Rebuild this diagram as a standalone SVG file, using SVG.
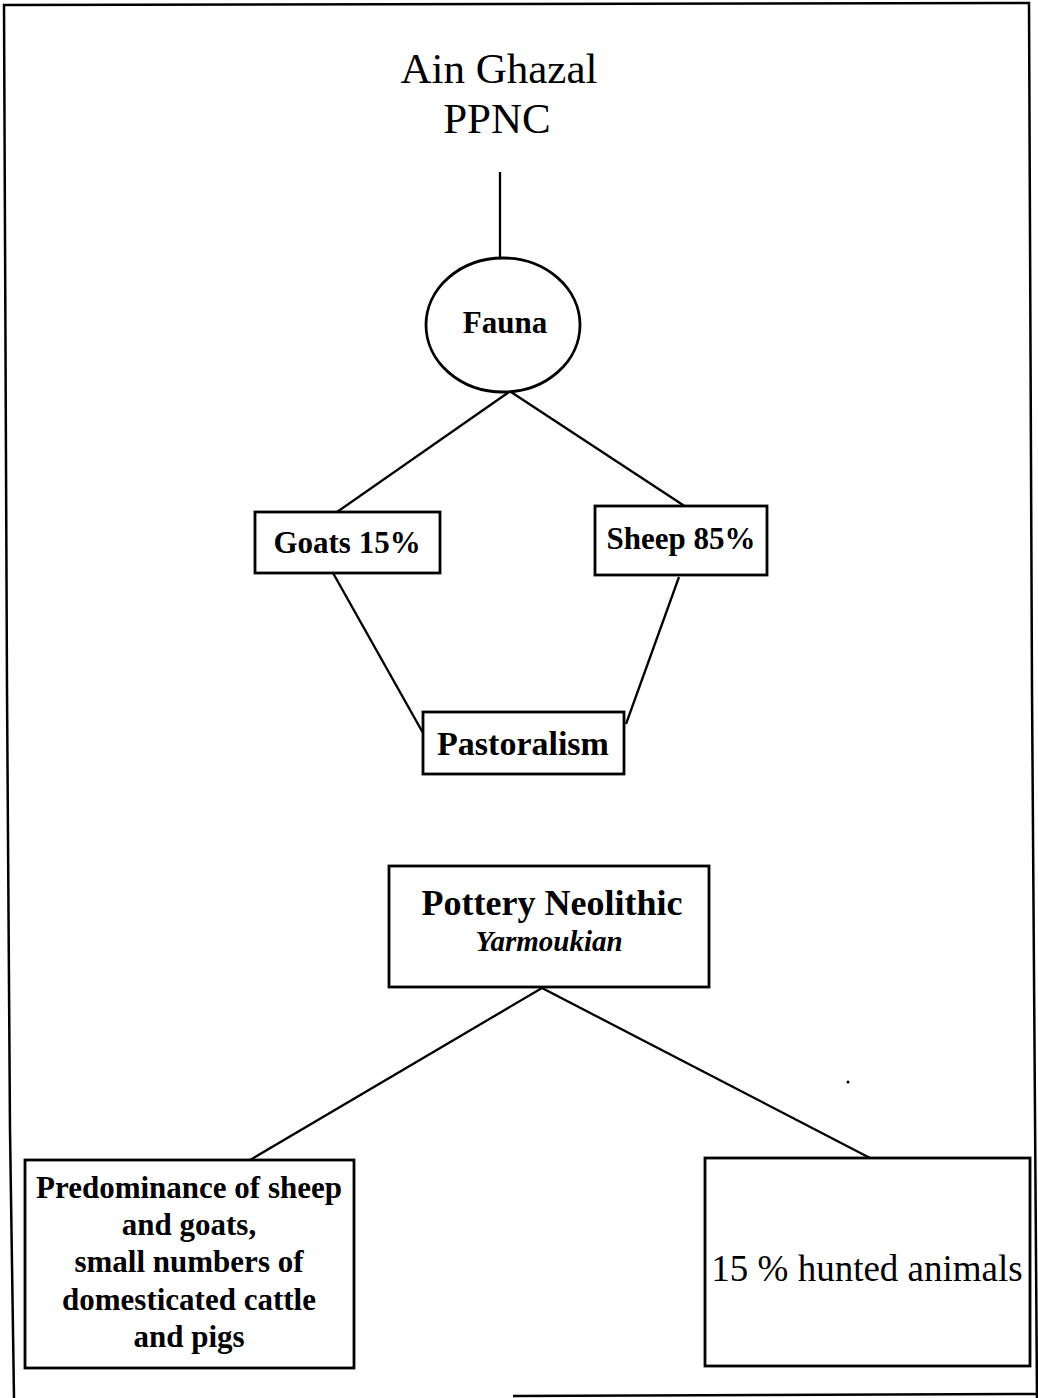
<svg xmlns="http://www.w3.org/2000/svg" width="1038" height="1398" viewBox="0 0 1038 1398">
<style>
.box{fill:#fff;stroke:#000;stroke-width:2.8}
.edge{fill:none;stroke:#000;stroke-width:2.3}
.frame{fill:none;stroke:#000;stroke-width:2.5}
text{font-family:"Liberation Serif","Times New Roman",serif;fill:#000;text-anchor:middle}
.b{font-weight:bold}
</style>
<rect width="1038" height="1398" fill="#fff"/>
<g id="frame">
<polyline class="frame" points="14,1398 10,1130 7,690 4,5 1029,3 1032,690 1037,1398"/>
<line class="frame" x1="513" y1="1396" x2="1038" y2="1394"/>
</g>
<g id="connectors">
<line class="edge" x1="500" y1="172" x2="500" y2="258"/>
<line class="edge" x1="509" y1="392" x2="337" y2="512"/>
<line class="edge" x1="511" y1="392" x2="686" y2="507"/>
<line class="edge" x1="333" y1="573" x2="423" y2="733"/>
<line class="edge" x1="679" y1="577" x2="626" y2="724"/>
<line class="edge" x1="542" y1="988" x2="250" y2="1160"/>
<line class="edge" x1="542" y1="988" x2="870" y2="1158"/>
</g>
<g id="title">
<text x="499" y="83" font-size="43">Ain Ghazal</text>
<text x="497" y="133" font-size="43">PPNC</text>
</g>
<g id="fauna">
<ellipse class="box" cx="503" cy="325" rx="77" ry="67"/>
<text class="b" x="505" y="333" font-size="31">Fauna</text>
</g>
<g id="goats">
<rect class="box" x="255" y="512" width="185" height="61"/>
<text class="b" x="347" y="553" font-size="31">Goats 15%</text>
</g>
<g id="sheep">
<rect class="box" x="595" y="506" width="172" height="69"/>
<text class="b" x="681" y="549" font-size="31">Sheep 85%</text>
</g>
<g id="pastoralism">
<rect class="box" x="423" y="712" width="201" height="62"/>
<text class="b" x="523" y="755" font-size="34">Pastoralism</text>
</g>
<g id="pottery">
<rect class="box" x="389" y="866" width="320" height="121"/>
<text class="b" x="552" y="915" font-size="36">Pottery Neolithic</text>
<text class="b" x="549" y="951" font-size="29" font-style="italic">Yarmoukian</text>
</g>
<g id="predominance">
<rect class="box" x="25" y="1160" width="329" height="208"/>
<text class="b" x="189" y="1198" font-size="31">Predominance of sheep</text>
<text class="b" x="189" y="1235" font-size="31">and goats,</text>
<text class="b" x="189" y="1272" font-size="31">small numbers of</text>
<text class="b" x="189" y="1310" font-size="31">domesticated cattle</text>
<text class="b" x="189" y="1347" font-size="31">and pigs</text>
</g>
<g id="hunted">
<rect class="box" x="705" y="1158" width="325" height="208"/>
<text x="867" y="1281" font-size="37">15 % hunted animals</text>
</g>
<circle cx="848" cy="1082" r="1.5" fill="#000"/>
</svg>
